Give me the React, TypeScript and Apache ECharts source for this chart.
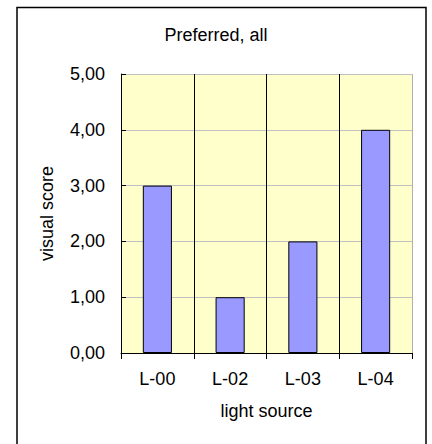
import React, { useEffect, useRef } from "react";
import * as echarts from "echarts";

const categories = ["L-00", "L-02", "L-03", "L-04"];
const scores = [3, 1, 2, 4];
const titleText = "Preferred, all";
const xName = "light source";
const yName = "visual score";

export default function App() {
  const ref = useRef<HTMLDivElement>(null);
  useEffect(() => {
    if (!ref.current) return;
    const chart = echarts.init(ref.current, null, { renderer: "svg" });
    const font = "Liberation Sans, Arial, sans-serif";
    chart.setOption({
      animation: false,
      backgroundColor: "#ffffff",
      title: {
        text: titleText,
        left: "center",
        top: 21,
        textStyle: { fontFamily: font, fontSize: 18, fontWeight: "normal", color: "#000" },
      },
      graphic: [
        {
          type: "rect",
          shape: { x: 17, y: 7.5, width: 409, height: 460 },
          style: { fill: "none", stroke: "#000", lineWidth: 1.5 },
          silent: true,
        },
      ],
      grid: {
        left: 121,
        right: 20,
        top: 74,
        bottom: 91,
        show: true,
        backgroundColor: "#ffffcc",
        borderWidth: 0,
      },
      xAxis: {
        type: "category",
        data: categories,
        name: xName,
        nameLocation: "middle",
        nameGap: 49,
        nameTextStyle: { fontFamily: font, fontSize: 18, color: "#000" },
        axisLine: { show: true, lineStyle: { color: "#000", width: 1 } },
        axisTick: { show: true, length: 6, lineStyle: { color: "#000" } },
        axisLabel: { fontFamily: font, fontSize: 18, color: "#000", margin: 17 },
        splitLine: {
          show: true,
          lineStyle: { color: ["#000", "#000", "#000", "#000", "#b0b0b0"], width: 1 },
        },
      },
      yAxis: {
        type: "value",
        min: 0,
        max: 5,
        interval: 1,
        name: yName,
        nameLocation: "middle",
        nameGap: 65,
        nameTextStyle: { fontFamily: font, fontSize: 18, color: "#000" },
        axisLine: { show: true, lineStyle: { color: "#000", width: 1 } },
        axisTick: { show: true, inside: true, length: 5, lineStyle: { color: "#000" } },
        axisLabel: {
          fontFamily: font,
          fontSize: 18,
          color: "#000",
          margin: 16,
          formatter: (v: number) => v.toFixed(2).replace(".", ","),
        },
        splitLine: { show: true, lineStyle: { color: "#c0c0c0", width: 1 } },
      },
      series: [
        {
          type: "bar",
          data: scores,
          barWidth: "40%",
          itemStyle: { color: "#9999ff", borderColor: "#000", borderWidth: 1 },
        },
      ],
    });
    return () => chart.dispose();
  }, []);
  return <div ref={ref} style={{ width: 432, height: 444, position: "absolute", left: 0, top: 0 }} />;
}
